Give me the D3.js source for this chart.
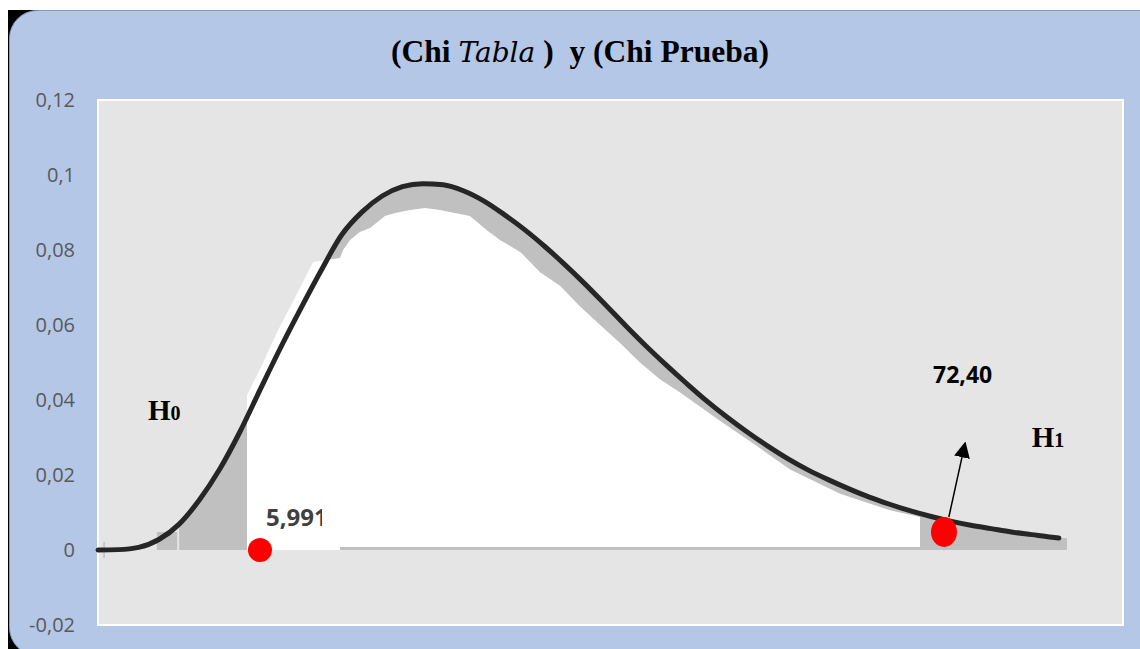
<!DOCTYPE html>
<html>
<head>
<meta charset="utf-8">
<script src="https://cdn.jsdelivr.net/npm/d3@7"></script>
<style>
  body { margin: 0; background: #ffffff; }
  svg { display: block; }
</style>
</head>
<body>
<svg id="chart" width="1140" height="649"></svg>
<script>
// density curve (chi value -> height)
const chiX = [0, 0.5, 1, 1.5, 2, 2.5, 3, 3.5, 4, 4.5, 5, 5.5, 6, 6.5, 7, 7.5, 8, 8.5, 9, 9.5, 10,
    10.5, 11, 11.5, 12, 12.5, 13, 13.5, 14, 14.5, 15, 15.5, 16, 16.5, 17, 17.5, 18, 18.5, 19, 19.5,
    20, 20.5, 21, 21.5, 22, 22.5, 23, 23.5, 23.67];
const chiY = [0, 0.0001, 0.0007, 0.0028, 0.0069, 0.0134, 0.0216, 0.0316, 0.0429, 0.054, 0.0645,
    0.0746, 0.084, 0.0901, 0.0944, 0.0969, 0.0977, 0.0974, 0.0958, 0.0931, 0.0895, 0.0855, 0.081,
    0.0761, 0.0709, 0.0654, 0.0598, 0.0544, 0.0493, 0.0444, 0.0397, 0.0354, 0.0314, 0.0277, 0.0243,
    0.0213, 0.0187, 0.0163, 0.0141, 0.0122, 0.0105, 0.009, 0.0077, 0.0066, 0.0057, 0.0048, 0.0041,
    0.0034, 0.0032];

// white (acceptance) region pasted over the grey shading
const whiteX = [3.67, 3.67, 4.04, 4.41, 4.85, 5.3, 5.96, 6.04, 6.21, 6.45, 6.7, 7.07, 7.32, 7.69,
    8.06, 8.42, 8.79, 9.16, 9.58, 9.9, 10.4, 10.89, 11.38, 11.87, 12.37, 12.86, 13.35, 13.85, 14.34,
    15.32, 16.06, 17.05, 18.28, 19.51, 20.25, 20.25, 5.96, 5.96];
const whiteY = [0, 0.0413, 0.0493, 0.0581, 0.0672, 0.0768, 0.0779, 0.08, 0.0827, 0.0848, 0.0859,
    0.0891, 0.0899, 0.0907, 0.0912, 0.0907, 0.0899, 0.0891, 0.0853, 0.0827, 0.0795, 0.0741, 0.0705,
    0.065, 0.06, 0.0552, 0.05, 0.0455, 0.042, 0.0345, 0.029, 0.0215, 0.015, 0.0106, 0.0088, 0.0008,
    0.0008, 0];

// grey shading limits
const shadeStart = 2;
const shadeLeftBlock = [1.45, 1.95, 0.0048];
const shadeRightBlock = [23.2, 23.87, 0.0032];

// y axis
const yTicks = [-0.02, 0, 0.02, 0.04, 0.06, 0.08, 0.1, 0.12];
const yTickLabels = ['-0,02', '0', '0,02', '0,04', '0,06', '0,08', '0,1', '0,12'];

// critical value and test statistic
const chiTabla = { x: 3.99, y: 0, label: '5,991', lx: 4.14, ly: 0.0064 };
const chiPrueba = { x: 20.84, y: 0.0048, label: '72,40', lx: 20.57, ly: 0.0445 };
const arrowFrom = [20.96, 0.0088];
const arrowTo = [21.36, 0.0285];
const hypotheses = [
    { main: 'H', sub: '0', x: 1.23, y: 0.0347 },
    { main: 'H', sub: '1', x: 23.0, y: 0.0275 }
];

const svg = d3.select('#chart');
const W = 1140, H = 649;
const plot = { left: 98, top: 100, right: 1123, bottom: 625 };

const x = d3.scaleLinear().domain([0, 25.25]).range([plot.left, plot.right]);
const y = d3.scaleLinear().domain([-0.02, 0.12]).range([plot.bottom, plot.top]);

// frame
svg.append('rect')
    .attr('x', 8).attr('y', 10).attr('width', W).attr('height', H)
    .attr('fill', '#000000');
svg.append('rect')
    .attr('x', 9.5).attr('y', 10.5).attr('width', W + 40).attr('height', H - 4)
    .attr('rx', 28)
    .attr('fill', '#B4C7E7')
    .attr('stroke', '#7F9BC4')
    .attr('stroke-width', 1);

// title
const title = svg.append('text')
    .attr('x', 580).attr('y', 62)
    .attr('text-anchor', 'middle')
    .attr('font-family', '"Liberation Serif", "Times New Roman", serif')
    .attr('font-weight', 'bold')
    .attr('font-size', 31.5)
    .style('white-space', 'pre')
    .attr('fill', '#000000');
title.append('tspan').text('(Chi ');
title.append('tspan')
    .attr('font-family', '"DejaVu Serif", serif')
    .attr('font-style', 'italic')
    .attr('font-weight', 'normal')
    .attr('font-size', 28)
    .text('Tabla');
title.append('tspan').text(' )  y (Chi Prueba)');

// plot area
svg.append('rect')
    .attr('x', plot.left).attr('y', plot.top)
    .attr('width', plot.right - plot.left).attr('height', plot.bottom - plot.top)
    .attr('fill', '#E5E5E5')
    .attr('stroke', '#FFFFFF')
    .attr('stroke-width', 2);

// y axis labels
const yAxis = svg.append('g')
    .attr('transform', 'translate(' + plot.left + ',0)')
    .call(d3.axisLeft(y).tickValues(yTicks)
        .tickFormat(function(d, i) { return yTickLabels[i]; })
        .tickSize(0).tickPadding(23));
yAxis.select('.domain').remove();
yAxis.selectAll('text')
    .attr('font-family', '"Open Sans", sans-serif')
    .attr('font-size', 20)
    .attr('fill', '#595959');

// small tick where the axis crosses
svg.append('line')
    .attr('x1', x(0.15)).attr('x2', x(0.15))
    .attr('y1', y(0) - 8).attr('y2', y(0) + 8)
    .attr('stroke', '#BFBFBF').attr('stroke-width', 1.5);

const pts = chiX.map(function(d, i) { return { x: d, y: chiY[i] }; });

// grey shading under the curve
const shadeArea = d3.area()
    .x(function(d) { return x(d.x); })
    .y0(y(0))
    .y1(function(d) { return y(d.y); })
    .curve(d3.curveMonotoneX);
svg.append('path')
    .datum(pts.filter(function(d) { return d.x >= shadeStart; }))
    .attr('d', shadeArea)
    .attr('fill', '#C0C0C0');
[shadeLeftBlock, shadeRightBlock].forEach(function(b) {
    svg.append('rect')
        .attr('x', x(b[0])).attr('y', y(b[2]))
        .attr('width', x(b[1]) - x(b[0])).attr('height', y(0) - y(b[2]))
        .attr('fill', '#C0C0C0');
});

// white region
const whitePts = whiteX.map(function(d, i) { return [x(d), y(whiteY[i])]; });
svg.append('path')
    .attr('d', d3.line()(whitePts) + 'Z')
    .attr('fill', '#FFFFFF');

// density curve
const line = d3.line()
    .x(function(d) { return x(d.x); })
    .y(function(d) { return y(d.y); })
    .curve(d3.curveMonotoneX);
svg.append('path')
    .datum(pts)
    .attr('d', line)
    .attr('fill', 'none')
    .attr('stroke', '#262626')
    .attr('stroke-width', 5)
    .attr('stroke-linecap', 'round');

// critical value label, clipped like the original text box
svg.append('clipPath').attr('id', 'tablaClip')
    .append('rect')
    .attr('x', x(3.67)).attr('y', y(0.02))
    .attr('width', x(5.52) - x(3.67)).attr('height', y(0) - y(0.02));
svg.append('text')
    .attr('clip-path', 'url(#tablaClip)')
    .attr('x', x(chiTabla.lx)).attr('y', y(chiTabla.ly))
    .attr('font-family', '"Open Sans", sans-serif')
    .attr('font-weight', 'bold')
    .attr('font-size', 24)
    .attr('fill', '#404040')
    .text(chiTabla.label);

// arrow
const defs = svg.append('defs');
defs.append('marker')
    .attr('id', 'arrowHead')
    .attr('viewBox', '0 0 10 10')
    .attr('refX', 9).attr('refY', 5)
    .attr('markerUnits', 'userSpaceOnUse')
    .attr('markerWidth', 16).attr('markerHeight', 16)
    .attr('orient', 'auto')
    .append('path')
    .attr('d', 'M0,0 L10,5 L0,10 Z')
    .attr('fill', '#000000');
svg.append('line')
    .attr('x1', x(arrowFrom[0])).attr('y1', y(arrowFrom[1]))
    .attr('x2', x(arrowTo[0])).attr('y2', y(arrowTo[1]))
    .attr('stroke', '#000000')
    .attr('stroke-width', 1.5)
    .attr('marker-end', 'url(#arrowHead)');

// red points
svg.append('ellipse')
    .attr('cx', x(chiTabla.x)).attr('cy', y(chiTabla.y))
    .attr('rx', 12).attr('ry', 12)
    .attr('fill', '#FF0000');
svg.append('ellipse')
    .attr('cx', x(chiPrueba.x)).attr('cy', y(chiPrueba.y))
    .attr('rx', 13).attr('ry', 15)
    .attr('fill', '#FF0000');

svg.append('text')
    .attr('x', x(chiPrueba.lx)).attr('y', y(chiPrueba.ly))
    .attr('font-family', '"Open Sans", sans-serif')
    .attr('font-weight', 'bold')
    .attr('font-size', 23)
    .attr('fill', '#000000')
    .text(chiPrueba.label);

// H0 / H1
hypotheses.forEach(function(h) {
    const t = svg.append('text')
        .attr('x', x(h.x)).attr('y', y(h.y))
        .attr('font-family', '"Liberation Serif", "Times New Roman", serif')
        .attr('font-weight', 'bold')
        .attr('fill', '#000000');
    t.append('tspan').attr('font-size', 29).text(h.main);
    t.append('tspan').attr('font-size', 20).text(h.sub);
});
</script>
</body>
</html>
